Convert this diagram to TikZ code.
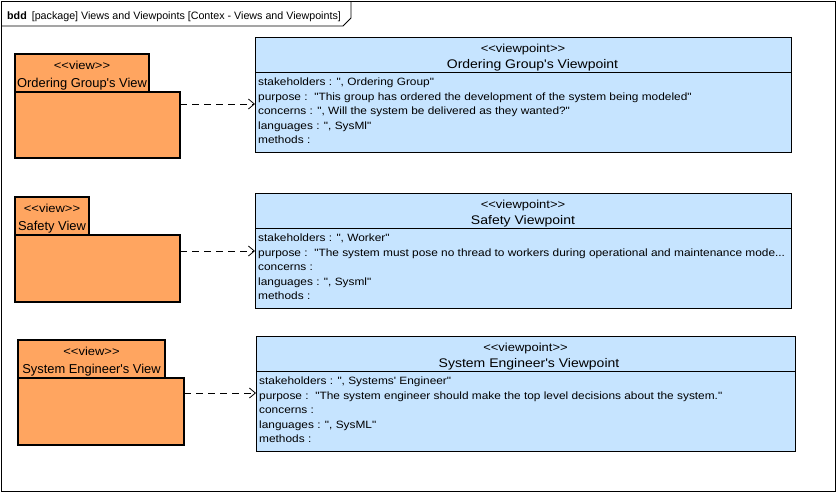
\documentclass[tikz,border=0pt]{standalone}
\usepackage{fontspec}
\newfontfamily\umlfont{Liberation Sans}[FakeStretch=1.12]
\newfontfamily\namefont{Liberation Sans}
\usetikzlibrary{arrows.meta}
\definecolor{viewfill}{RGB}{255,165,96}
\definecolor{pointfill}{RGB}{198,228,255}
\newcommand{\cutdots}{...}
\begin{document}
\begin{tikzpicture}[x=1pt, y=-1pt,
		viewtab/.style={draw, line width=1.9pt, fill=viewfill, inner sep=0pt, outer sep=0pt, anchor=north west, minimum height=38pt},
		viewbody/.style={viewtab, minimum height=67pt},
		pointbox/.style={draw, line width=0.9pt, fill=pointfill, inner sep=0pt, outer sep=0pt, anchor=north west, minimum width=536pt, minimum height=115pt},
		stereo/.style={font=\umlfont\fontsize{11.6}{13}\selectfont, inner sep=0pt, anchor=base},
		title/.style={font=\umlfont\fontsize{12.5}{14}\selectfont, inner sep=0pt, anchor=base},
		viewname/.style={font=\namefont\fontsize{12.9}{14}\selectfont, inner sep=0pt, anchor=base},
		attr/.style={font=\umlfont\fontsize{10.6}{13}\selectfont, inner sep=0pt, anchor=base west},
		dep/.style={line width=0.8pt, dash pattern=on 7pt off 5pt, -{Straight Barb[length=6pt, width=10pt]}}]
	\useasboundingbox (0,0) rectangle (837,493);
	% frame
	\draw[line width=0.8pt] (1,1) rectangle (835,491);
	\draw[line width=0.8pt] (1,26) -- (343,26) -- (351,18) -- (351,1);
	\node[anchor=base west, inner sep=0pt, font=\namefont\fontsize{10.7}{13}\selectfont] (header) at (7,19)
		{\textbf{bdd}\hspace{5pt}[package] Views and Viewpoints [Contex - Views and Viewpoints]};

	% views
	\node[viewtab, minimum width=134pt] (ordtab) at (15,54) {};
	\node[viewbody, minimum width=165pt, minimum height=66pt] (ordview) at (15,92) {};
	\node[stereo] (ordst) at ([yshift=-15pt]ordtab.north) {<<view>>};
	\node[viewname] (ordname) at ([yshift=-33.5pt]ordtab.north) {Ordering Group's View};

	\node[viewtab, minimum width=74pt] (safetab) at (15,197) {};
	\node[viewbody, minimum width=165pt] (safeview) at (15,235) {};
	\node[stereo] (safest) at ([yshift=-15pt]safetab.north) {<<view>>};
	\node[viewname] (safename) at ([yshift=-33.5pt]safetab.north) {Safety View};

	\node[viewtab, minimum width=147pt] (engtab) at (18,340) {};
	\node[viewbody, minimum width=166pt] (engview) at (18,378) {};
	\node[stereo] (engst) at ([yshift=-15pt]engtab.north) {<<view>>};
	\node[viewname] (engname) at ([yshift=-33.5pt]engtab.north) {System Engineer's View};

	% viewpoints
	\node[pointbox] (ordpoint) at (255,37) {};
	\node[stereo] (ordpst) at ([yshift=-15pt]ordpoint.north) {<<viewpoint>>};
	\node[title] (ordpname) at ([xshift=9.5pt, yshift=-31.5pt]ordpoint.north) {Ordering Group's Viewpoint};
	\draw[line width=0.9pt] ([yshift=-35pt]ordpoint.north west) -- ([yshift=-35pt]ordpoint.north east);
	\foreach \t [count=\i] in {{stakeholders : ", Ordering Group"},
			{purpose :\ \ "This group has ordered the development of the system being modeled"},
			{concerns : ", Will the system be delivered as they wanted?"},
			{languages : ", SysMl"}, {methods :}}
		\node[attr] (ordattr\i) at ([xshift=3pt, yshift={-48.5pt-14.5pt*(\i-1)}]ordpoint.north west) {\t};

	\node[pointbox] (safepoint) at (255,193) {};
	\node[stereo] (safepst) at ([yshift=-15pt]safepoint.north) {<<viewpoint>>};
	\node[title] (safepname) at ([yshift=-31.5pt]safepoint.north) {Safety Viewpoint};
	\draw[line width=0.9pt] ([yshift=-35pt]safepoint.north west) -- ([yshift=-35pt]safepoint.north east);
	\foreach \t [count=\i] in {{stakeholders : ", Worker"},
			{purpose :\ \ "The system must pose no thread to workers during operational and maintenance mode\cutdots},
			{concerns :}, {languages : ", Sysml"}, {methods :}}
		\node[attr] (safeattr\i) at ([xshift=3pt, yshift={-48.5pt-14.5pt*(\i-1)}]safepoint.north west) {\t};

	\node[pointbox, minimum width=539pt] (engpoint) at (256,336) {};
	\node[stereo] (engpst) at ([yshift=-15pt]engpoint.north) {<<viewpoint>>};
	\node[title] (engpname) at ([xshift=3.5pt, yshift=-31.5pt]engpoint.north) {System Engineer's Viewpoint};
	\draw[line width=0.9pt] ([yshift=-35pt]engpoint.north west) -- ([yshift=-35pt]engpoint.north east);
	\foreach \t [count=\i] in {{stakeholders : ", Systems' Engineer"},
			{purpose :\ \ "The system engineer should make the top level decisions about the system."},
			{concerns :}, {languages : ", SysML"}, {methods :}}
		\node[attr] (engattr\i) at ([xshift=3pt, yshift={-48.5pt-14.5pt*(\i-1)}]engpoint.north west) {\t};

	% dependencies
	\coordinate (ordfrom) at ([yshift=-12pt]ordview.north east);
	\coordinate (safefrom) at ([yshift=-16pt]safeview.north east);
	\coordinate (engfrom) at ([yshift=-15pt]engview.north east);
	\draw[dep] (ordfrom) -- (ordfrom -| ordpoint.west);
	\draw[dep] (safefrom) -- (safefrom -| safepoint.west);
	\draw[dep] (engfrom) -- (engfrom -| engpoint.west);
\end{tikzpicture}
\end{document}
